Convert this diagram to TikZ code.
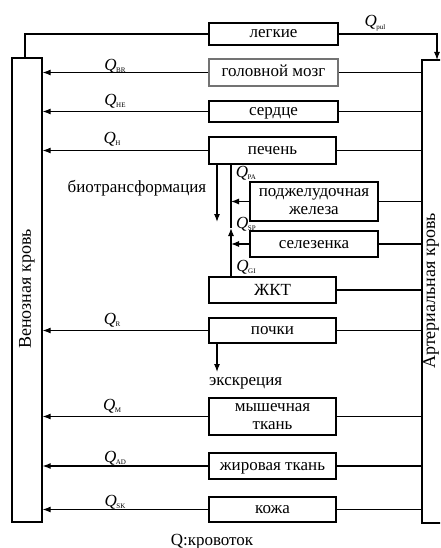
\documentclass[tikz,border=0pt]{standalone}
\usepackage{fontspec}
\setmainfont{Liberation Serif}
\newfontfamily\ser{Liberation Serif}
\usetikzlibrary{arrows.meta}
\newcommand{\Qlab}[1]{{\ser\fontsize{17}{17}\selectfont\itshape Q}\kern-0.5pt\raisebox{-2.5pt}{\ser\fontsize{7}{7}\selectfont #1}}
\tikzset{
  organ/.style={draw, line width=1.3pt, inner sep=0pt, align=center, font=\ser\fontsize{17}{17}\selectfont},
  one/.style={text height=11pt, text depth=3pt},
  flow/.style={line width=1.1pt},
  arr/.style={flow, -{Latex[length=8pt,width=6pt]}},
  qlab/.style={inner sep=0pt},
  txt/.style={inner sep=0pt, font=\ser\fontsize{17}{17}\selectfont},
  sidetxt/.style={inner sep=0pt, rotate=90, font=\ser\fontsize{18}{18}\selectfont}
}
\begin{document}
\begin{tikzpicture}[x=1pt,y=-1pt]
\useasboundingbox (0,0) rectangle (440,548);
\clip (0,0) rectangle (440,548);
% blood boxes
\node[organ, minimum width=30pt, minimum height=464pt] (ven) at (27,290) {};
\node[sidetxt] (ventxt) at (27,289) {Венозная кровь};
\node[organ, minimum width=40pt, minimum height=463pt] (art) at (442,291.5) {};
\node[sidetxt] (arttxt) at (431,291) {Артериальная кровь};
% organs
\node[organ, one, minimum width=129pt, minimum height=22pt] (lung) at (273.5,34) {легкие};
\node[organ, one, draw=black!55, minimum width=129pt, minimum height=27pt] (brain) at (273.5,72.5) {головной мозг};
\node[organ, one, minimum width=129pt, minimum height=21pt] (heart) at (273.5,111.5) {сердце};
\node[organ, one, minimum width=127pt, minimum height=27pt] (liver) at (272.5,150.5) {печень};
\node[organ, minimum width=128pt, minimum height=39pt, font=\ser\fontsize{17}{18}\selectfont] (panc) at (314,201.5) {поджелудочная\\железа};
\node[organ, one, minimum width=128pt, minimum height=26pt] (spleen) at (314,244) {селезенка};
\node[organ, minimum width=127pt, minimum height=26pt] (git) at (272.5,290) {ЖКТ};
\node[organ, one, minimum width=127pt, minimum height=25pt] (kid) at (272.5,330.5) {почки};
\node[organ, minimum width=127pt, minimum height=37pt, font=\ser\fontsize{17}{18}\selectfont] (musc) at (272.5,416.5) {мышечная\\ткань};
\node[organ, one, minimum width=127pt, minimum height=26pt] (fat) at (272.5,466) {жировая ткань};
\node[organ, one, minimum width=127pt, minimum height=25pt] (skin) at (272.5,509.5) {кожа};
% lungs loop
\coordinate (vtop) at (25,58);
\coordinate (atop) at (437,60);
\draw[flow] (lung.west) -| (vtop);
\draw[arr] (lung.east) -| (atop);
\node[qlab] (qpul) at (375,23) {\Qlab{pul}};
% systemic returns
\foreach \o in {brain,heart,liver,kid,musc,fat,skin}{
  \draw[arr] (\o.west) -- (\o.west -| ven.east);
  \draw[flow] (\o.east) -- (\o.east -| art.west);
}
\foreach \o in {panc,spleen,git}{
  \draw[flow] (\o.east) -- (\o.east -| art.west);
}
% portal system
\coordinate (pt) at (231,164);
\coordinate (pm) at (231,228);
\coordinate (pb) at (231,277);
\draw[arr] (pb) -- (pm);
\draw[flow] (pm) -- (pt);
\draw[arr] (panc.west) -- (panc.west -| pt);
\draw[arr] (spleen.west) -- (spleen.west -| pt);
% biotransformation, excretion
\coordinate (bt) at (217,222);
\draw[arr] (liver.south -| bt) -- (bt);
\node[txt] (bttxt) at (137,188) {биотрансформация};
\coordinate (ex) at (217,372);
\draw[arr] (kid.south -| ex) -- (ex);
\node[txt, anchor=west] (extxt) at (209,383) {экскреция};
% flow labels
\node[qlab] (qbr) at (115,66) {\Qlab{BR}};
\node[qlab] (qhe) at (115,101) {\Qlab{HE}};
\node[qlab] (qh) at (112,139) {\Qlab{H}};
\node[qlab] (qpa) at (246,173) {\Qlab{PA}};
\node[qlab] (qsp) at (246,224) {\Qlab{SP}};
\node[qlab] (qgi) at (246,267) {\Qlab{GI}};
\node[qlab] (qr) at (112,320) {\Qlab{R}};
\node[qlab] (qm) at (112,406) {\Qlab{M}};
\node[qlab] (qad) at (115,458) {\Qlab{AD}};
\node[qlab] (qsk) at (115,502) {\Qlab{SK}};
\node[txt] (legend) at (212,542) {Q:кровоток};
\end{tikzpicture}
\end{document}
